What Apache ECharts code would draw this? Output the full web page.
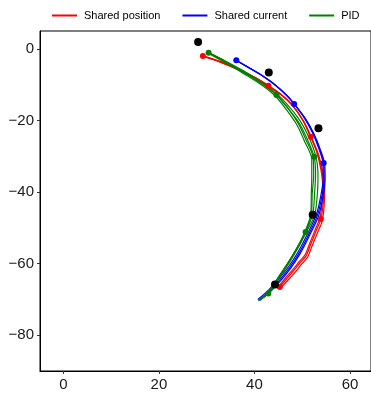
<!DOCTYPE html>
<html><head><meta charset="utf-8">
<script src="https://cdn.jsdelivr.net/npm/echarts@6/dist/echarts.min.js"></script>
<style>html,body{margin:0;padding:0;background:#fff}#c{width:371px;height:394px}</style>
</head><body><div id="c"></div>
<script>
var seriesNames = ['Shared position', 'Shared current', 'PID'];
var xTicks = [0, 20, 40, 60];
var yTicks = [0, -20, -40, -60, -80];

var targets = [[28.2, 2.0], [43.0, -6.5], [53.4, -22.1], [52.2, -46.3], [44.3, -65.8]];

var redRuns = [
  [[29.2,-1.9],[33,-3.6],[37,-5.9],[40.5,-8.2],[42.9,-10.2],[45.5,-12.6],[48,-15.8],[50.2,-20],[51.8,-24.5],[53.2,-29],[54.1,-34],[54.5,-39],[54.4,-43],[53.9,-47.5],[53,-50.5],[51.8,-54.5],[50.8,-57.8],[49.7,-59.5],[48.5,-61.5],[47,-63.8],[45.3,-66.5]],
  [[29.5,-2.1],[33.2,-3.8],[37.2,-6.1],[40.7,-8.5],[43.0,-10.5],[45.7,-12.9],[48.2,-16.1],[50.4,-20.4],[52.0,-24.9],[53.4,-29.4],[54.3,-34.4],[54.7,-39.4],[54.6,-43.4],[54.2,-48.0],[53.3,-51.0],[52.1,-54.9],[51.1,-58.2],[50.0,-59.9],[48.8,-61.9],[47.3,-64.2],[45.5,-66.7]],
  [[29.0,-1.7],[32.8,-3.4],[36.8,-5.7],[40.3,-8.0],[42.7,-10.0],[45.3,-12.3],[47.8,-15.4],[50.0,-19.6],[51.6,-24.1],[53.0,-28.6],[53.9,-33.6],[54.3,-38.6],[54.2,-42.7],[53.7,-47.1],[52.8,-50.2],[51.6,-54.2],[50.6,-57.5],[49.5,-59.2],[48.3,-61.2],[46.8,-63.5],[45.1,-66.3]]
];
var redDots = [[29.2,-1.9],[42.9,-10.2],[51.8,-24.5],[53.9,-47.5],[45.3,-66.5]];

var blueRuns = [
  [[36.2,-3.1],[38.5,-4.9],[41.5,-7.3],[44.5,-10.2],[46.8,-13],[48.3,-15.3],[50.5,-19.2],[52.3,-23.5],[53.6,-27.8],[54.5,-31.8],[54.6,-36],[54.2,-40.5],[53.2,-46.4],[51.1,-52.5],[49.3,-57.1],[47.4,-61],[45.3,-64.5],[43.2,-67.5],[40.9,-70.2]],
  [[36.4,-3.3],[38.7,-5.1],[41.7,-7.5],[44.7,-10.4],[47.0,-13.2],[48.5,-15.6],[50.7,-19.5],[52.5,-23.8],[53.8,-28.1],[54.7,-32.2],[54.8,-36.4],[54.4,-40.9],[53.4,-46.7],[51.3,-52.7],[49.5,-57.3],[47.6,-61.2],[45.5,-64.7],[43.4,-67.7],[41.1,-70.3]],
  [[36.0,-3.0],[38.3,-4.7],[41.3,-7.1],[44.3,-9.9],[46.6,-12.7],[48.1,-15.0],[50.3,-18.9],[52.1,-23.2],[53.4,-27.5],[54.3,-31.5],[54.4,-35.8],[54.0,-40.2],[53.0,-46.1],[50.9,-52.2],[49.1,-56.8],[47.2,-60.7],[45.1,-64.2],[43.0,-67.3],[40.7,-70.0]]
];
var blueDots = [[36.2,-3.1],[48.3,-15.3],[54.5,-31.8]];

var greenRuns = [
  [[30.4,-0.95],[34,-3.5],[38,-6.5],[41.5,-9.5],[44.6,-12.8],[47,-16.5],[49.3,-20.5],[51,-25],[52.5,-30.1],[52.8,-35],[52.6,-40],[52.2,-46.2],[50.7,-51.1],[49,-55.5],[47,-60],[45,-64],[42.9,-68.3],[41,-70]],
  [[30.6,-1.3],[34.2,-4.0],[38.1,-7.1],[41.6,-10.1],[44.5,-13.3],[46.8,-17.1],[48.9,-21.2],[50.5,-25.8],[52.0,-30.8],[52.0,-35.5],[51.9,-40.5],[51.8,-46],[50.4,-51.5],[48.7,-56],[46.7,-60.4],[44.7,-64.4],[42.6,-68.6],[40.8,-70.3]],
  [[30.2,-0.8],[33.8,-3.2],[37.8,-6.1],[41.4,-9.2],[44.7,-12.5],[47.3,-16.1],[49.6,-20.1],[51.4,-24.6],[52.8,-29.7],[53.3,-34.5],[53.2,-40],[52.6,-46.4],[51,-50.8],[49.3,-55.2],[47.3,-59.7],[45.3,-63.7],[43.2,-68],[41.2,-69.8]],
  [[30.5,-1.1],[34.3,-3.8],[38.3,-6.9],[41.8,-9.9],[44.8,-13],[47.2,-16.8],[49.2,-20.8],[50.8,-25.4],[52.3,-30.4],[52.4,-35.2],[52.1,-40.3],[51.9,-46.3],[50.6,-51.3],[48.8,-55.8],[46.8,-60.2],[44.8,-64.2],[42.7,-68.5],[40.9,-70.1]]
];
var greenDots = [[30.4,-0.95],[44.6,-12.8],[52.5,-30.1],[50.7,-51.1],[42.9,-68.3]];

var colors = ['#ff0000', '#0000ff', '#008000'];
var runsAll = [redRuns, blueRuns, greenRuns];
var dotsAll = [redDots, blueDots, greenDots];

var series = [];
runsAll.forEach(function (runs, i) {
  runs.forEach(function (r) {
    series.push({
      name: seriesNames[i], type: 'line', data: r, smooth: 0.3,
      showSymbol: false, symbol: 'none', color: colors[i],
      lineStyle: { width: 1.2, color: colors[i] }, silent: true, z: 2
    });
  });
});
dotsAll.forEach(function (d, i) {
  series.push({
    name: seriesNames[i], type: 'scatter', data: d, symbolSize: 6,
    itemStyle: { color: colors[i], opacity: 1 }, silent: true, z: 3
  });
});
series.push({
  name: 'target', type: 'scatter', data: targets, symbolSize: 8,
  itemStyle: { color: '#000', opacity: 1 }, silent: true, z: 4
});

var fmt = function (v) { return String(v).replace('-', '\u2212'); };

var chart = echarts.init(document.getElementById('c'), null, { renderer: 'canvas' });
chart.setOption({
  animation: false,
  backgroundColor: '#fff',
  textStyle: { fontFamily: 'Liberation Sans, Arial, sans-serif' },
  legend: {
    data: seriesNames.map(function (n, i) { return { name: n, icon: 'rect', itemStyle: { color: colors[i] } }; }),
    left: 47, top: 5, itemWidth: 25, itemHeight: 2, itemGap: 22,
    textStyle: { fontSize: 11, color: '#000', padding: [0, 0, 0, 2] }
  },
  grid: { left: 40, top: 31, right: 0, bottom: 23, show: true, borderColor: '#000', borderWidth: 1, containLabel: false },
  xAxis: {
    type: 'value', min: -4.9, max: 64.4,
    axisLine: { show: true, onZero: false, lineStyle: { color: '#000', width: 1 } },
    axisTick: { show: true, length: 3, lineStyle: { color: '#333' }, customValues: xTicks },
    axisLabel: { customValues: xTicks, fontSize: 15, color: '#1a1a1a', margin: 6, formatter: fmt },
    splitLine: { show: false }
  },
  yAxis: {
    type: 'value', min: -90, max: 5.1,
    axisLine: { show: true, onZero: false, lineStyle: { color: '#000', width: 1 } },
    axisTick: { show: true, length: 3, lineStyle: { color: '#333' }, customValues: yTicks },
    axisLabel: { customValues: yTicks, fontSize: 15, color: '#1a1a1a', margin: 6, formatter: fmt },
    splitLine: { show: false }
  },
  series: series
});
</script></body></html>
